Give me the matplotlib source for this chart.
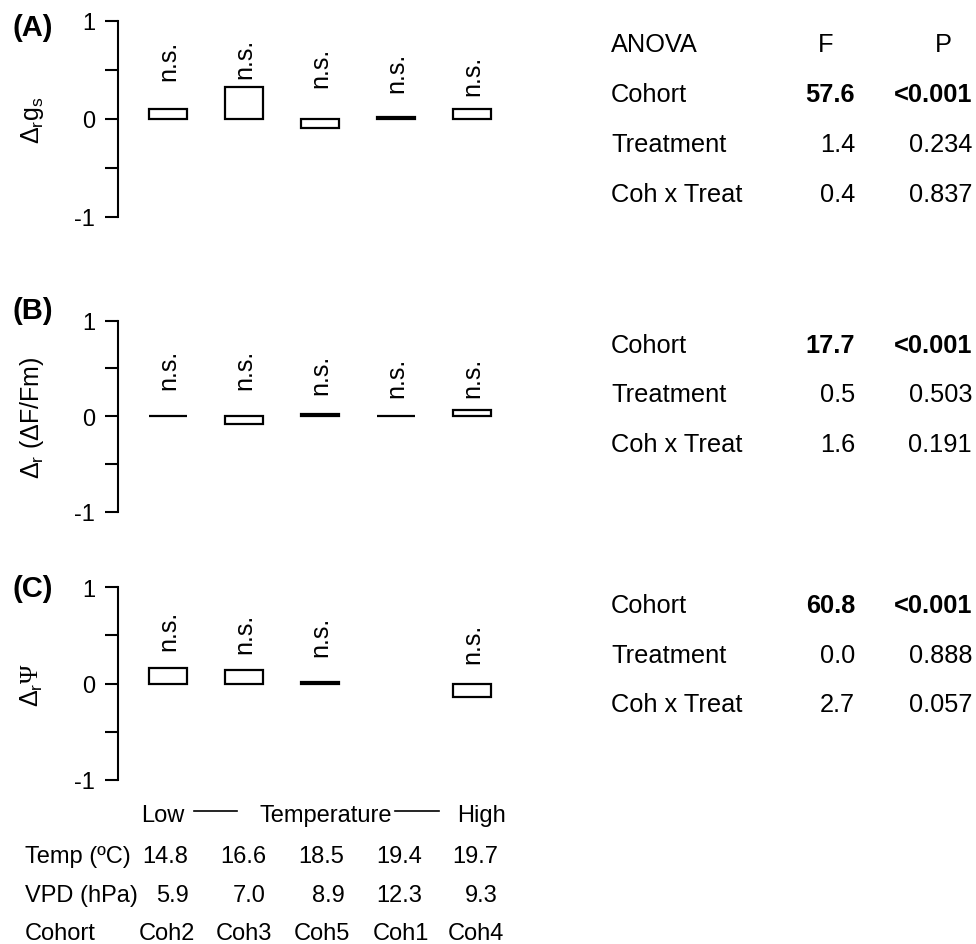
import matplotlib.pyplot as plt
from matplotlib.transforms import blended_transform_factory
from matplotlib.lines import Line2D
import numpy as np

plt.rcParams['font.family'] = ['Liberation Sans', 'DejaVu Sans']
plt.rcParams['mathtext.fontset'] = 'custom'
plt.rcParams['mathtext.rm'] = 'Liberation Sans'
plt.rcParams['mathtext.it'] = 'Liberation Sans'
plt.rcParams['mathtext.cal'] = 'Liberation Serif'

# relative treatment response per cohort (ordered by growth temperature)
cohorts = ['Coh2', 'Coh3', 'Coh5', 'Coh1', 'Coh4']
temp = ['14.8', '16.6', '18.5', '19.4', '19.7']
vpd = ['5.9', '7.0', '8.9', '12.3', '9.3']

gs = [0.10, 0.32, -0.09, 0.02, 0.10]
fvfm = [0.0, -0.08, 0.02, 0.0, 0.07]
psi = [0.16, 0.14, 0.02, np.nan, -0.14]

sig_gs = ['n.s.'] * 5
sig_fvfm = ['n.s.'] * 5
sig_psi = ['n.s.', 'n.s.', 'n.s.', '', 'n.s.']

# ANOVA results: (term, F, P)
anova_gs = [('Cohort', '57.6', '<0.001'), ('Treatment', '1.4', '0.234'), ('Coh x Treat', '0.4', '0.837')]
anova_fvfm = [('Cohort', '17.7', '<0.001'), ('Treatment', '0.5', '0.503'), ('Coh x Treat', '1.6', '0.191')]
anova_psi = [('Cohort', '60.8', '<0.001'), ('Treatment', '0.0', '0.888'), ('Coh x Treat', '2.7', '0.057')]

W, H = 976, 945
fig = plt.figure(figsize=(W / 100, H / 100), dpi=100)

def fx(px):
    return px / W

def fy(py):
    return 1 - py / H

panels = [
    ('(A)', r'$\Delta_r g_s$', gs, sig_gs, [0.40, 0.42, 0.32, 0.27, 0.24], anova_gs, 21.7, 218, 36, [102, 152, 202]),
    ('(B)', r'$\Delta_r$ ($\Delta$F/Fm)', fvfm, sig_fvfm, [0.29, 0.29, 0.23, 0.20, 0.20], anova_fvfm, 321.7, 512.7, 319, [353, 402, 452]),
    ('(C)', r'$\Delta_r\mathcal{\Psi}$', psi, sig_psi, [0.35, 0.32, 0.29, 0.0, 0.21], anova_psi, 588.3, 781, 597, [613, 663, 712]),
]

x = np.arange(1, len(cohorts) + 1)
fs = 17
tfs = 18.3
x_lo, x_hi = 0.342, 5.63
axes = []
for letter, ylab, vals, sig, sig_y, anova, top, bot, letter_y, rows in panels:
    ax = fig.add_axes([fx(118), fy(bot), fx((x_hi - x_lo) * 76), (bot - top) / H])
    ax.bar(x, vals, width=0.5, color='white', edgecolor='black', linewidth=1.6)
    for xi, s, sy in zip(x, sig, sig_y):
        if s:
            ax.text(xi, sy, s, rotation=90, ha='center', va='bottom', fontsize=18)
    ax.set_xlim(x_lo, x_hi)
    ax.set_ylim(-1, 1)
    ax.set_yticks([-1, -0.5, 0, 0.5, 1])
    ax.set_yticklabels(['-1', '', '0', '', '1'])
    ax.tick_params(axis='y', length=9.4, width=1.5, pad=7, labelsize=17)
    ax.set_xticks([])
    for side in ['top', 'right', 'bottom']:
        ax.spines[side].set_visible(False)
    ax.spines['left'].set_linewidth(1.5)
    fig.text(fx(32), fy((top + bot) / 2), ylab, rotation=90, ha='center', va='center', fontsize=18)
    fig.text(fx(12), fy(letter_y), letter, fontsize=21, fontweight='bold', va='baseline')

    # ANOVA table to the right of each panel
    for (term, f, p), ry in zip(anova, rows):
        w = 'bold' if term == 'Cohort' else 'normal'
        fig.text(fx(611), fy(ry), term, fontsize=tfs, va='baseline')
        fig.text(fx(855), fy(ry), f, fontsize=tfs, va='baseline', ha='right', fontweight=w)
        fig.text(fx(972), fy(ry), p, fontsize=tfs, va='baseline', ha='right', fontweight=w)
    axes.append(ax)

fig.text(fx(611), fy(51.7), 'ANOVA', fontsize=tfs, va='baseline')
fig.text(fx(826), fy(51.7), 'F', fontsize=tfs, va='baseline', ha='center')
fig.text(fx(943), fy(51.7), 'P', fontsize=tfs, va='baseline', ha='center')

# growth conditions beneath the bottom panel
ax = axes[-1]
tr = blended_transform_factory(ax.transData, fig.transFigure)
col = [0.98, 2.0, 3.03, 4.06, 5.05]
ax.text(0.93, fy(821.7), 'Low', transform=tr, ha='center', va='baseline', fontsize=fs)
ax.text(3.07, fy(821.7), 'Temperature', transform=tr, ha='center', va='baseline', fontsize=fs)
ax.text(5.12, fy(821.7), 'High', transform=tr, ha='center', va='baseline', fontsize=fs)
for x0, x1 in [(1.34, 1.91), (3.99, 4.56)]:
    fig.add_artist(Line2D([x0, x1], [fy(812), fy(812)], transform=tr, color='black', linewidth=1.2))

fig.text(fx(25), fy(863), 'Temp (ºC)', fontsize=fs, va='baseline')
fig.text(fx(25), fy(901.7), 'VPD (hPa)', fontsize=fs, va='baseline')
fig.text(fx(25), fy(940), 'Cohort', fontsize=fs, va='baseline')
for c, t, v, name in zip(col, temp, vpd, cohorts):
    ax.text(c + 0.29, fy(863), t, transform=tr, ha='right', va='baseline', fontsize=fs)
    ax.text(c + 0.29, fy(901.7), v, transform=tr, ha='right', va='baseline', fontsize=fs)
    ax.text(c, fy(940), name, transform=tr, ha='center', va='baseline', fontsize=fs)

fig.savefig('out.png', dpi=100)
